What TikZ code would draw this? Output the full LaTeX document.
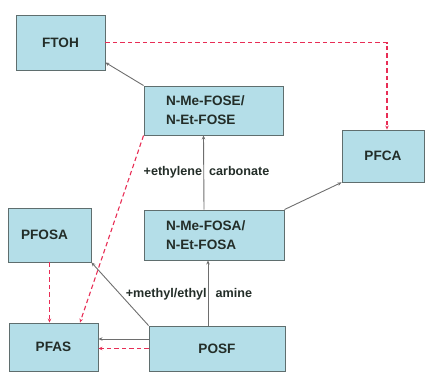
\documentclass[tikz,border=0pt]{standalone}
\usepackage{fontspec}
\setmainfont{Liberation Sans}
\usetikzlibrary{arrows.meta,calc}
\definecolor{boxfill}{RGB}{180,222,232}
\definecolor{boxline}{RGB}{95,110,110}
\definecolor{redd}{RGB}{232,45,85}
\definecolor{greyline}{RGB}{110,110,110}
\definecolor{txt}{RGB}{35,45,40}
\begin{document}
\begin{tikzpicture}[x=1pt,y=-1pt,
  box/.style={draw=boxline,fill=boxfill,line width=0.9pt,inner sep=0pt,
    font=\bfseries\fontsize{13.6}{19}\selectfont,text=txt},
  lbl/.style={font=\bfseries\fontsize{12.6}{14}\selectfont,text=txt,inner sep=0pt},
  arr/.style={draw=greyline,line width=0.9pt,-{Stealth[length=4pt,width=3.5pt]}},
  rarr/.style={draw=redd,line width=1.1pt,dash pattern=on 4.5pt off 3pt,-{Stealth[length=4pt,width=3.5pt]}}]
\useasboundingbox (0,0) rectangle (425,372);
\node[box,minimum width=89pt,minimum height=55pt] (FTOH) at (60.5,42.5) {FTOH};
\node[box,minimum width=139pt,minimum height=49pt,text width=95pt,inner xsep=22pt,align=left] (FOSE) at (213.5,110.5) {N-Me-FOSE/\\N-Et-FOSE};
\node[box,minimum width=82pt,minimum height=52pt] (PFCA) at (383,156) {PFCA};
\node[box,minimum width=140pt,minimum height=50pt,text width=96pt,inner xsep=22pt,align=left] (FOSA) at (214,235) {N-Me-FOSA/\\N-Et-FOSA};
\node[box,minimum width=83pt,minimum height=54pt,text width=71pt,inner xsep=6pt,align=center] (PFOSA) at (49.5,235) {PFOSA\hspace*{10pt}};
\node[box,minimum width=89pt,minimum height=48pt] (PFAS) at (53.5,347) {PFAS};
\node[box,minimum width=136pt,minimum height=45pt] (POSF) at (217,348.5) {POSF};
\node[lbl] (ethyl) at (206.5,172) {+ethylene\hspace{7pt}carbonate};
\node[lbl] (amine) at (189,294) {+methyl/ethyl\hspace{9pt}amine};
% connectors
\draw[arr] (FOSE.north west) -- (FTOH.-24);
\draw[rarr] (FTOH.east) -| ([xshift=4pt]PFCA.north);
\draw[arr] ([xshift=-10pt]FOSA.north) -- ([xshift=-10pt]FOSE.south);
\draw[arr] (FOSA.north east) -- (PFCA.south west);
\draw[arr] ([xshift=-9pt]POSF.north) -- ([xshift=-9pt]POSF.north |- FOSA.south);
\draw[arr] (POSF.north west) -- (PFOSA.south east);
\draw[arr] ([yshift=9.5pt]POSF.west) -- ([yshift=9.5pt]POSF.west -| PFAS.east);
\draw[rarr] (POSF.west) -- (POSF.west -| PFAS.east);
\draw[rarr] (PFOSA.south) -- (PFOSA.south |- PFAS.north);
\draw[rarr] (FOSE.south west) -- ([xshift=26.5pt]PFAS.north);
\end{tikzpicture}
\end{document}
